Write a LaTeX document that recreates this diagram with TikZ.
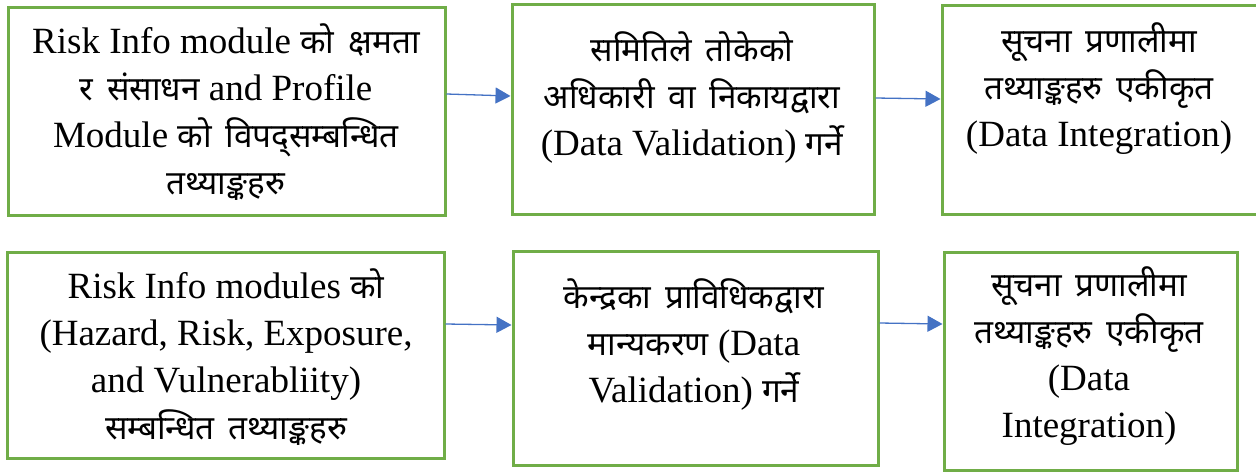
\documentclass[tikz,border=0pt]{standalone}
\usepackage{fontspec}
\setmainfont{Liberation Serif}
\newfontfamily\devfont[Script=Devanagari,Scale=0.9,WordSpace=1.6]{Noto Sans}
\newcommand{\np}[1]{{\devfont #1}}
\usetikzlibrary{arrows.meta}
\definecolor{boxgreen}{RGB}{112,173,71}
\definecolor{flowblue}{RGB}{68,114,196}

\begin{document}
\begin{tikzpicture}[x=1pt, y=-1pt]
        \tikzstyle{stage}=[draw=boxgreen,line width=3pt,inner sep=0pt]
        \tikzstyle{words}=[align=center,inner sep=0pt,font=\fontsize{37}{47}\selectfont]
        \tikzstyle{flow}=[draw=flowblue,line width=1.3pt,-{Triangle[length=15pt,width=16pt]}]

        \useasboundingbox (0,0) rectangle (1256,472);

        % top row
        \node[stage,minimum width=437pt,minimum height=208pt] (T_1) at (226.5,111) {};
        \node[stage,minimum width=362pt,minimum height=210pt] (T_2) at (693,109) {};
        \node[stage,minimum width=320pt,minimum height=209pt] (T_3) at (1102,109.5) {};
        \node[words] (T_1t) at (226,112) {Risk Info module \np{को क्षमता}\\ \np{र संसाधन} and Profile\\ Module \np{को विपद्सम्बन्धित}\\ \np{तथ्याङ्कहरु}};
        \node[words] (T_2t) at (692,98) {\np{समितिले तोकेको}\\ \np{अधिकारी वा निकायद्वारा}\\ (Data Validation) \np{गर्ने}};
        \node[words] (T_3t) at (1099,89) {\np{सूचना प्रणालीमा}\\ \np{तथ्याङ्कहरु एकीकृत}\\ (Data Integration)};

        % bottom row
        \node[stage,minimum width=437pt,minimum height=206pt] (B_1) at (225.5,355) {};
        \node[stage,minimum width=365pt,minimum height=214pt] (B_2) at (695.5,358) {};
        \node[stage,minimum width=293pt,minimum height=218pt] (B_3) at (1090.5,361) {};
        \node[words] (B_1t) at (226,357) {Risk Info modules \np{को}\\ (Hazard, Risk, Exposure,\\ and Vulnerabliity)\\ \np{सम्बन्धित तथ्याङ्कहरु}};
        \node[words] (B_2t) at (694,345) {\np{केन्द्रका प्राविधिकद्वारा}\\ \np{मान्यकरण} (Data\\ Validation) \np{गर्ने}};
        \node[words] (B_3t) at (1089,356) {\np{सूचना प्रणालीमा}\\ \np{तथ्याङ्कहरु एकीकृत}\\ (Data\\ Integration)};

        \draw[flow] ([yshift=17pt]T_1.east) -- ([yshift=13pt]T_2.west);
        \draw[flow] ([yshift=11pt]T_2.east) -- ([yshift=10.5pt]T_3.west);
        \draw[flow] ([yshift=31pt]B_1.east) -- ([yshift=33pt]B_2.west);
        \draw[flow] ([yshift=35pt]B_2.east) -- ([yshift=37pt]B_3.west);
\end{tikzpicture}
\end{document}
